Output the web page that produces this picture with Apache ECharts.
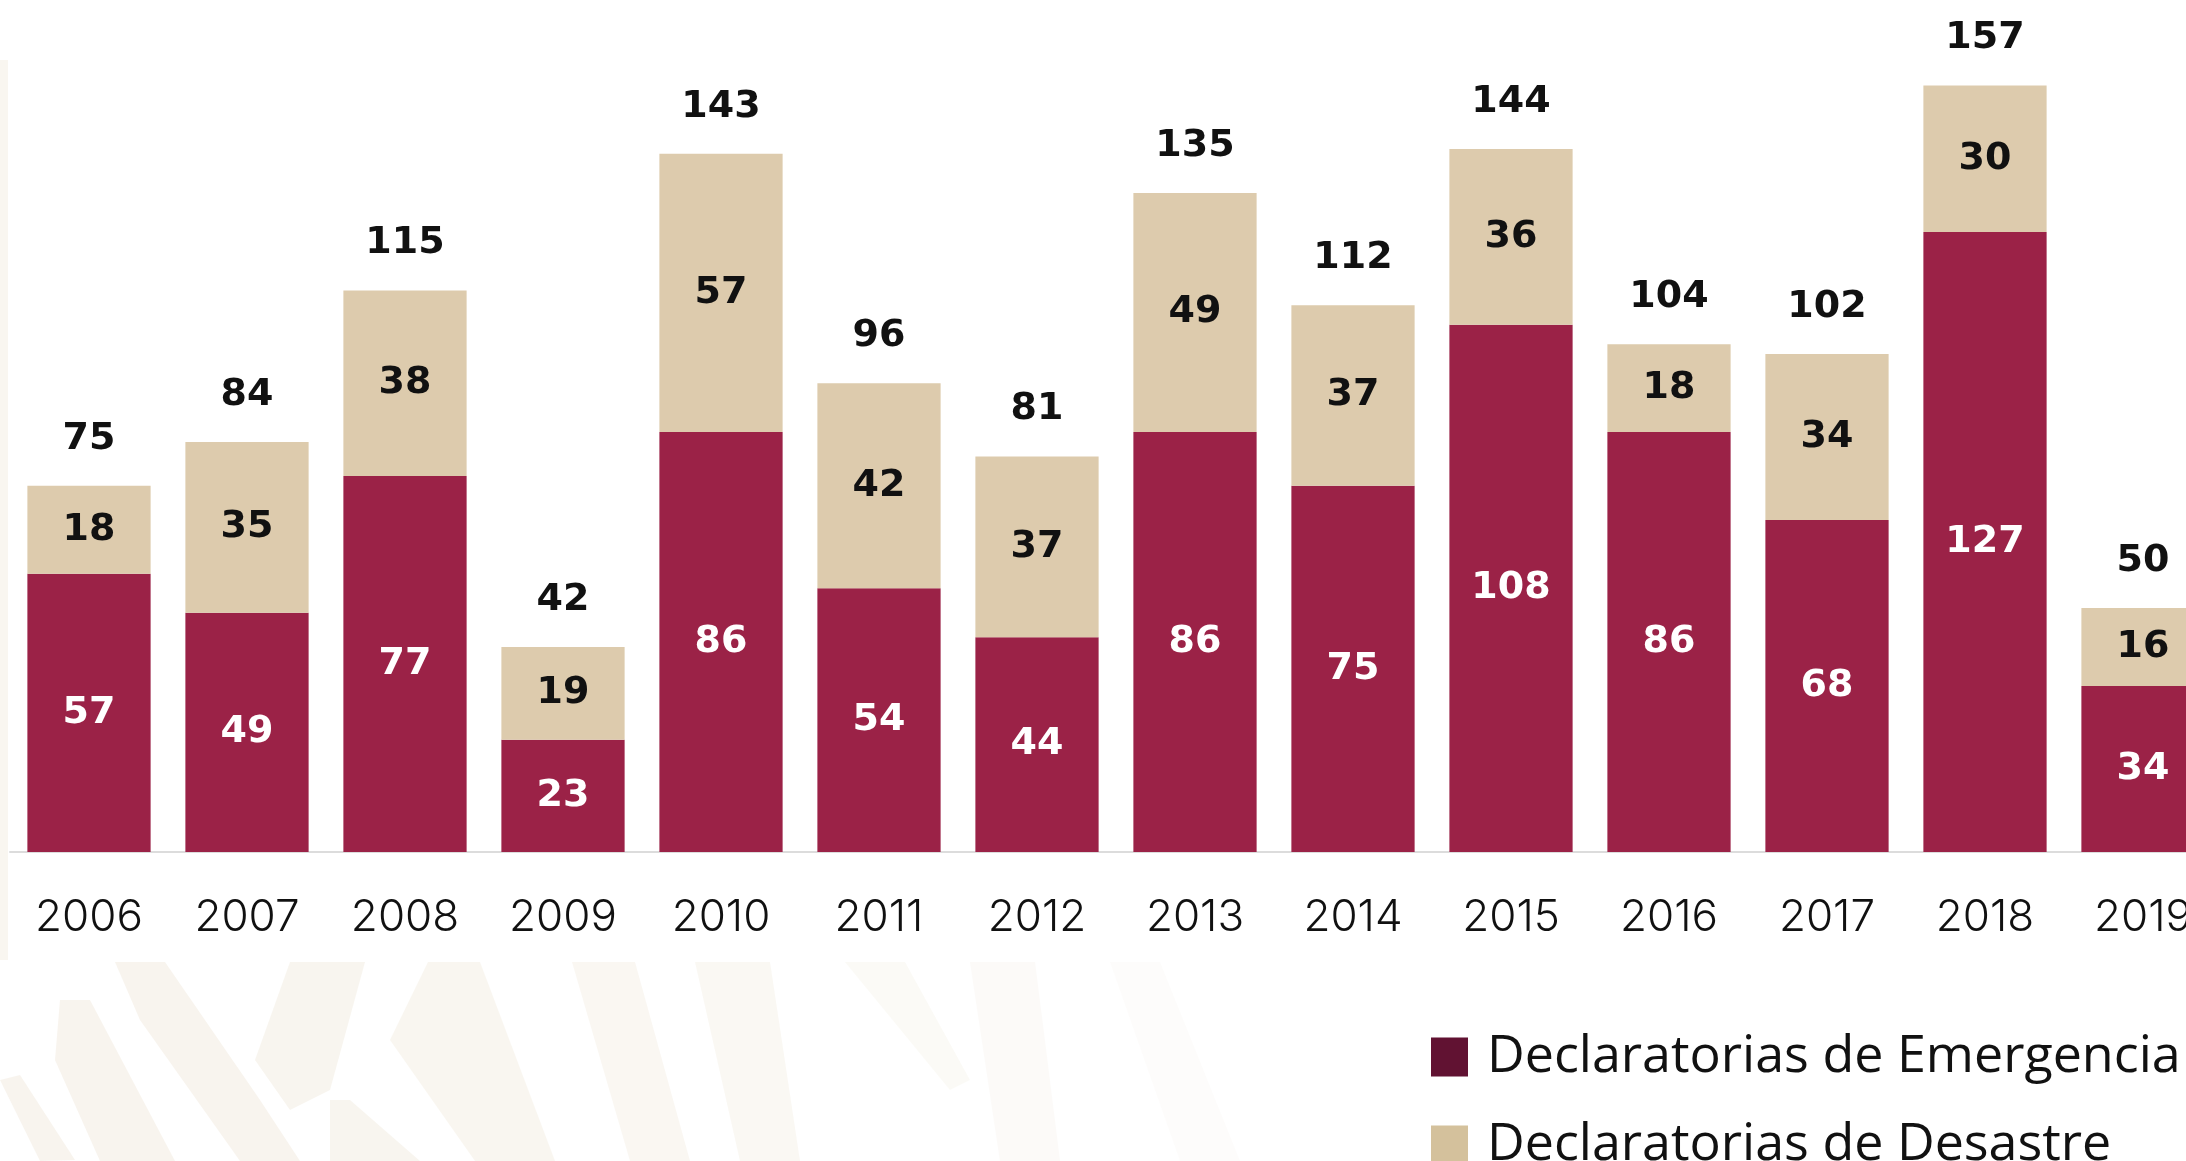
<!DOCTYPE html>
<html>
<head>
<meta charset="utf-8">
<title>Declaratorias 2006-2019</title>
<script src="https://cdn.jsdelivr.net/npm/echarts@6/dist/echarts.min.js"></script>
<style>
  html, body { margin: 0; padding: 0; background: #fff; }
  #chart { width: 2186px; height: 1161px; }
</style>
</head>
<body>
<div id="chart"></div>
<script>
// data
const years = ["2006", "2007", "2008", "2009", "2010", "2011", "2012",
  "2013", "2014", "2015", "2016", "2017", "2018", "2019"];
const emergencia = [57, 49, 77, 23, 86, 54, 44, 86, 75, 108, 86, 68, 127, 34];
const desastre = [18, 35, 38, 19, 57, 42, 37, 49, 37, 36, 18, 34, 30, 16];
// empty top segment used only to carry the total label
const totalCarrier = years.map(() => 0);

const chart = echarts.init(document.getElementById("chart"));

const numFont = "'DejaVu Sans', sans-serif";
const textFont = "'Open Sans', 'DejaVu Sans', sans-serif";

// faint watermark stripes in the lower-left corner (decoration only)
const stripe = (pts, op) => ({
  type: "polygon",
  silent: true,
  z: -10,
  shape: { points: pts },
  style: { fill: "#f3ede2", opacity: op },
});

const legendText = {
  fontFamily: textFont,
  fontSize: 52,
  fontWeight: 500,
  color: "#111",
  padding: [0, 0, 0, 14],
};

chart.setOption({
  backgroundColor: "#ffffff",
  animation: false,
  graphic: [
    { type: "rect", silent: true, z: -10, shape: { x: 0, y: 60, width: 8, height: 900 },
      style: { fill: "#f3ede2", opacity: 0.5 } },
    stripe([[0, 1080], [20, 1075], [75, 1160], [40, 1161]], 0.6),
    stripe([[115, 962], [165, 962], [260, 1100], [300, 1161], [240, 1161], [140, 1020]], 0.6),
    stripe([[60, 1000], [90, 1000], [175, 1161], [100, 1161], [55, 1060]], 0.6),
    stripe([[290, 962], [365, 962], [330, 1090], [290, 1110], [255, 1060]], 0.55),
    stripe([[330, 1100], [350, 1100], [420, 1161], [330, 1161]], 0.55),
    stripe([[428, 962], [480, 962], [555, 1161], [475, 1161], [390, 1040]], 0.5),
    stripe([[572, 962], [635, 962], [690, 1161], [630, 1161]], 0.45),
    stripe([[695, 962], [770, 962], [800, 1161], [740, 1161]], 0.4),
    stripe([[845, 962], [905, 962], [970, 1080], [950, 1090]], 0.3),
    stripe([[970, 962], [1035, 962], [1060, 1161], [1000, 1161]], 0.25),
    stripe([[1110, 962], [1160, 962], [1240, 1161], [1180, 1161]], 0.15),
  ],
  legend: [
    {
      left: 1426,
      top: 1026,
      itemWidth: 37,
      itemHeight: 39,
      icon: "rect",
      textStyle: legendText,
      data: [{ name: "Declaratorias de Emergencia", itemStyle: { color: "#611232" } }],
    },
    {
      left: 1426,
      top: 1114,
      itemWidth: 37,
      itemHeight: 39,
      icon: "rect",
      textStyle: legendText,
      data: [{ name: "Declaratorias de Desastre", itemStyle: { color: "#D4C19C" } }],
    },
  ],
  grid: {
    left: 10,
    top: 22,
    right: -36,
    bottom: 309,
    outerBoundsMode: "none",
    containLabel: false,
  },
  xAxis: {
    type: "category",
    data: years,
    axisTick: { show: false },
    axisLine: { lineStyle: { color: "#dcdcdc", width: 2 } },
    axisLabel: {
      margin: 44,
      fontFamily: "Inter, 'Open Sans', sans-serif",
      fontWeight: 300,
      fontSize: 44,
      color: "#111",
    },
  },
  yAxis: {
    type: "value",
    min: 0,
    max: 170,
    show: false,
    splitLine: { show: false },
  },
  series: [
    {
      name: "Declaratorias de Emergencia",
      type: "bar",
      stack: "total",
      barCategoryGap: "22%",
      itemStyle: { color: "#9B2247" },
      label: {
        show: true,
        position: "inside",
        color: "#fff",
        fontFamily: numFont,
        fontWeight: "bold",
        fontSize: 38,
      },
      data: emergencia,
    },
    {
      name: "Declaratorias de Desastre",
      type: "bar",
      stack: "total",
      itemStyle: { color: "#DDCBAD" },
      label: {
        show: true,
        position: "inside",
        color: "#111",
        fontFamily: numFont,
        fontWeight: "bold",
        fontSize: 38,
      },
      data: desastre,
    },
    {
      name: "Total",
      type: "bar",
      stack: "total",
      silent: true,
      itemStyle: { color: "transparent" },
      label: {
        show: true,
        position: "top",
        distance: 28,
        color: "#111",
        fontFamily: numFont,
        fontWeight: "bold",
        fontSize: 38,
        formatter: (p) => String(emergencia[p.dataIndex] + desastre[p.dataIndex]),
      },
      data: totalCarrier,
    },
  ],
});
</script>
</body>
</html>
